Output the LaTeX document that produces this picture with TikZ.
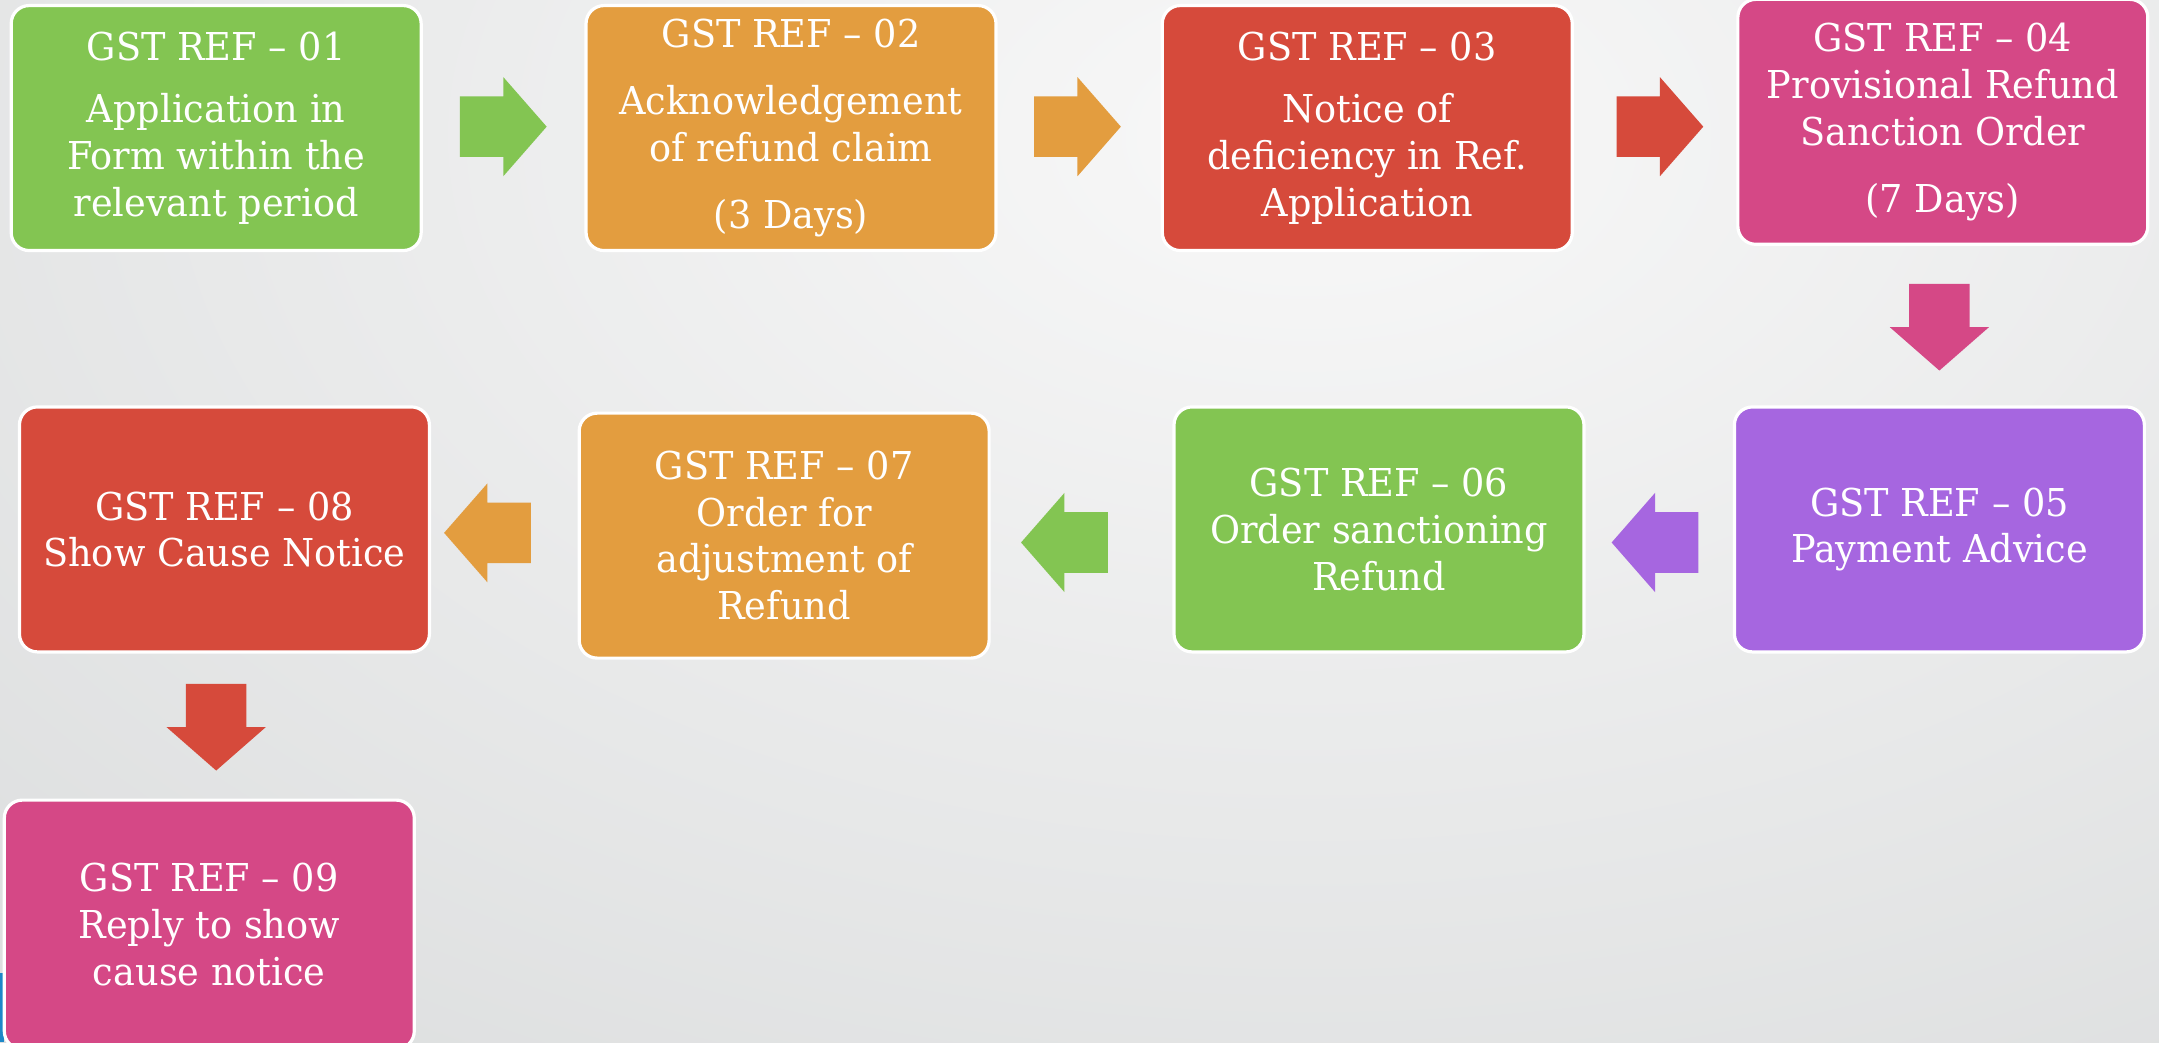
\documentclass[tikz,border=0pt]{standalone}
\usepackage{fontspec}
\setmainfont{DejaVu Serif}[FakeStretch=0.955]
\usetikzlibrary{calc}
\definecolor{cgreen}{HTML}{83C552}
\definecolor{corange}{HTML}{E39D3F}
\definecolor{cred}{HTML}{D64A3B}
\definecolor{cpink}{HTML}{D54886}
\definecolor{cpurple}{HTML}{A666E0}
\definecolor{cblue}{HTML}{1E88C8}
\definecolor{bgin}{HTML}{F8F8F8}
\definecolor{bgout}{HTML}{C6C9CA}
\pgfdeclareradialshading{bgshade}{\pgfpoint{0bp}{0bp}}{color(0bp)=(bgin); color(25bp)=(bgout); color(50bp)=(bgout)}
\begin{document}
\begin{tikzpicture}[x=0.6885pt,y=-0.6885pt,
  box/.style={draw=white, line width=1.6pt, rounded corners=9pt, text=white,
    align=center, font=\fontsize{19.2}{23.4}\selectfont,
    minimum width=205pt, minimum height=122.5pt, inner sep=0pt},
  barrow/.pic={\path[pic actions] (-31.5,-22) -- (0,-22) -- (0,-36) -- (31.5,0) -- (0,36) -- (0,22) -- (-31.5,22) -- cycle;}]
\useasboundingbox (0,0) rectangle (1568,757);
\begin{scope}
\clip (0,0) rectangle (1568,757);
\fill[bgout] (0,0) rectangle (1568,757);
\shade[shading=bgshade, yscale=0.62] (950,160) circle (2500);
\fill[cblue] (0,707) rectangle (3,757);
\end{scope}

\node[box, fill=cgreen] (b1) at (157,93) {GST REF \textendash{} 01\\[8pt]Application in\\Form within the\\relevant period};
\node[box, fill=corange] (b2) at (574.5,93) {GST REF \textendash{} 02\\[10pt]Acknowledgement\\of refund claim\\[10pt](3 Days)};
\node[box, fill=cred] (b3) at (993,93) {GST REF \textendash{} 03\\[8pt]Notice of\\deficiency in Ref.\\Application};
\node[box, fill=cpink] (b4) at (1411,88.5) {GST REF \textendash{} 04\\Provisional Refund\\Sanction Order\\[10pt](7 Days)};
\node[box, fill=cpurple] (b5) at (1408.5,384.5) {GST REF \textendash{} 05\\Payment Advice};
\node[box, fill=cgreen] (b6) at (1001.5,384.5) {GST REF \textendash{} 06\\Order sanctioning\\Refund};
\node[box, fill=corange] (b7) at (569.5,389) {GST REF \textendash{} 07\\Order for\\adjustment of\\Refund};
\node[box, fill=cred] (b8) at (163,384.5) {GST REF \textendash{} 08\\Show Cause Notice};
\node[box, fill=cpink, minimum height=124.5pt] (b9) at (152,671.5) {GST REF \textendash{} 09\\Reply to show\\cause notice};

\pic[fill=cgreen] at ($(b1.east)+(58.5,-1)$) {barrow};
\pic[fill=corange] at ($(b2.east)+(58,-1)$) {barrow};
\pic[fill=cred] at ($(b3.east)+(62.5,-1)$) {barrow};
\pic[fill=cpink, rotate=-90] at ($(b4.south)+(-2.5,59)$) {barrow};
\pic[fill=cpurple, rotate=180] at ($(b5.west)+(-56.5,9.5)$) {barrow};
\pic[fill=cgreen, rotate=180] at ($(b7.east)+(53.5,5)$) {barrow};
\pic[fill=corange, rotate=180] at ($(b8.east)+(41,2.5)$) {barrow};
\pic[fill=cred, rotate=-90] at ($(b8.south)+(-6,53.5)$) {barrow};
\end{tikzpicture}
\end{document}
